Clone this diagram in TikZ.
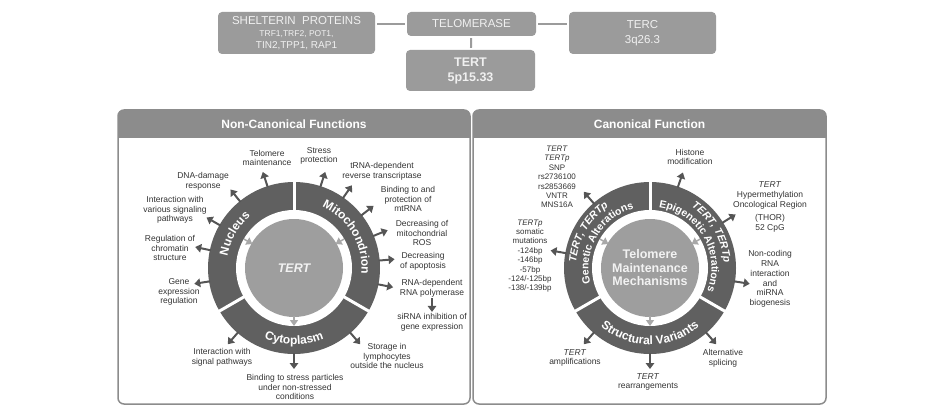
\documentclass[tikz,border=0pt]{standalone}
\usepackage{fontspec}
\setmainfont{Liberation Sans}
\usepackage{tikz}
\usetikzlibrary{arrows.meta,decorations.text}
\usepackage{xcolor}
\definecolor{boxgrey}{HTML}{9B9B9B}
\definecolor{hdrgrey}{HTML}{8C8C8C}
\definecolor{ringgrey}{HTML}{606060}
\definecolor{coregrey}{HTML}{9E9E9E}
\definecolor{arrgrey}{HTML}{555555}
\definecolor{tipgrey}{HTML}{A8A8A8}
\definecolor{txtgrey}{HTML}{333333}

\tikzset{
  gbox/.style={fill=boxgrey, rounded corners=4pt, text=white!94!black, align=center, inner sep=0pt},
  lbl/.style={text=txtgrey, align=center, font=\fontsize{8.5}{9.8}\selectfont, inner sep=1pt},
  lbls/.style={lbl, font=\fontsize{8}{9.4}\selectfont},
  outarr/.style={arrgrey, line width=2pt, -{Triangle[length=6pt,width=8.5pt]}},
  inarr/.style={tipgrey, line width=1.5pt, -{Triangle[length=6pt,width=8pt]}},
  link/.style={boxgrey, line width=2pt, shorten <=2pt, shorten >=2pt},
  panel/.style={draw=hdrgrey, line width=1.5pt, rounded corners=6pt},
  hdr/.style={text=white, font=\bfseries\fontsize{12}{14}\selectfont},
}

\begin{document}
\begin{tikzpicture}[x=1pt,y=1pt]
\useasboundingbox (0,0) rectangle (928,-414);

% top row
\node[gbox, minimum width=157pt, minimum height=42pt] (shel) at (296.5,-33) {\fontsize{11.5}{12}\selectfont SHELTERIN\ \ PROTEINS\\\fontsize{8.5}{10}\selectfont TRF1,TRF2, POT1,\\TIN2,TPP1, RAP1};
\node[gbox, minimum width=129pt, minimum height=24pt, font=\fontsize{11.5}{13}\selectfont] (telo) at (471.5,-24) {TELOMERASE};
\node[gbox, minimum width=147pt, minimum height=42pt, font=\fontsize{11.5}{15}\selectfont] (terc) at (642.5,-33) {TERC\\3q26.3};
\node[gbox, minimum width=129pt, minimum height=41pt, font=\bfseries\fontsize{12.5}{15}\selectfont] (tert) at (470.5,-70.5) {TERT\\5p15.33};
\draw[link] (telo.west) -- (telo.west -| shel.east);
\draw[link] (telo.east) -- (telo.east -| terc.west);
\draw[link] (telo) -- (tert);

% panels
\begin{scope}
\clip[rounded corners=6pt] (118,-110) rectangle (470,-404);
\fill[hdrgrey] (118,-110) rectangle (470,-138);
\end{scope}
\draw[panel] (118,-110) rectangle (470,-404);
\node[hdr] (nchd) at (294,-124) {Non-Canonical Functions};
\begin{scope}
\clip[rounded corners=6pt] (473,-110) rectangle (826,-404);
\fill[hdrgrey] (473,-110) rectangle (826,-138);
\end{scope}
\draw[panel] (473,-110) rectangle (826,-404);
\node[hdr] (chd) at (649.5,-124) {Canonical Function};

% left wheel
\begin{scope}[shift={(294,-268)}]
\fill[ringgrey] (0,0) circle[radius=86pt];
\fill[white] (0,0) circle[radius=58pt];
\fill[coregrey] (0,0) circle[radius=49pt];
\foreach \a in {90,210,330} \draw[white, line width=3pt] (\a:56pt) -- (\a:88pt);
\draw[inarr] (150:58pt) -- (150:48pt);
\draw[inarr] (30:58pt) -- (30:48pt);
\draw[inarr] (270:48pt) -- (270:58pt);
\foreach \a in {108,129,150,168,189,229,270,311,72,55,38,22,5,-11}
  \draw[outarr] (\a:85pt) -- (\a:101pt);
\path[decorate, decoration={text along path, text align=center, text color=white,
  text={|\bfseries\fontsize{12}{12}\selectfont|Nucleus}}]
  (207:67.5pt) arc[start angle=207, end angle=93, radius=67.5pt];
\path[decorate, decoration={text along path, text align=center, text color=white,
  text={|\bfseries\fontsize{12}{12}\selectfont|Mitochondrion}}]
  (87:67.5pt) arc[start angle=87, end angle=-27, radius=67.5pt];
\path[decorate, decoration={text along path, text align=center, text color=white,
  text={|\bfseries\fontsize{12}{12}\selectfont|Cytoplasm}}]
  (213:76.5pt) arc[start angle=213, end angle=327, radius=76.5pt];
\node[text=white!95!black, font=\bfseries\itshape\fontsize{12.5}{15}\selectfont] (core) at (0,0) {TERT};
\end{scope}

% left labels
\node[lbl] (telm) at (267,-158) {Telomere\\maintenance};
\node[lbl] (dna) at (203,-181) {DNA-damage\\response};
\node[lbl] (ivsp) at (175,-210) {Interaction with\\various signaling\\pathways};
\node[lbl] (chro) at (170,-248) {Regulation of\\chromatin\\structure};
\node[lbl] (gene) at (179,-292) {Gene\\expression\\regulation};
\node[lbl] (isp) at (222,-357) {Interaction with\\signal pathways};
\node[lbl] (bsp) at (295,-387) {Binding to stress particles\\under non-stressed\\conditions};
\node[lbl] (stor) at (387,-356) {Storage in\\lymphocytes\\outside the nucleus};
\node[lbl] (sprot) at (319,-156) {Stress\\protection};
\node[lbl] (trna) at (382,-171) {tRNA-dependent\\reverse transcriptase};
\node[lbl] (mtrna) at (408,-199) {Binding to and\\protection of\\mtRNA};
\node[lbl] (ros) at (422,-233) {Decreasing of\\mitochondrial\\ROS};
\node[lbl] (apo) at (423,-261) {Decreasing\\of apoptosis};
\node[lbl] (rdrp) at (432,-288) {RNA-dependent\\RNA polymerase};
\node[lbl] (sirna) at (432,-322) {siRNA inhibition of\\gene expression};
\draw[outarr] (rdrp) -- (sirna);

% right wheel
\begin{scope}[shift={(650,-268)}]
\fill[ringgrey] (0,0) circle[radius=86pt];
\fill[white] (0,0) circle[radius=58pt];
\fill[coregrey] (0,0) circle[radius=49pt];
\foreach \a in {90,210,330} \draw[white, line width=3pt] (\a:56pt) -- (\a:88pt);
\draw[inarr] (150:58pt) -- (150:48pt);
\draw[inarr] (30:58pt) -- (30:48pt);
\draw[inarr] (270:48pt) -- (270:58pt);
\foreach \a in {131,170,71,32,-9,229,270,311}
  \draw[outarr] (\a:85pt) -- (\a:101pt);
\path[decorate, decoration={text along path, text align=center, text color=white,
  text={|\bfseries\itshape\fontsize{10.5}{12}\selectfont|TERT, TERTp}}]
  (207:74pt) arc[start angle=207, end angle=93, radius=74pt];
\path[decorate, decoration={text along path, text align=center, text color=white,
  text={|\bfseries\fontsize{10.5}{12}\selectfont|Genetic Alterations}}]
  (208:61.5pt) arc[start angle=208, end angle=92, radius=61.5pt];
\path[decorate, decoration={text along path, text align=center, text color=white,
  text={|\bfseries\itshape\fontsize{10.5}{12}\selectfont|TERT, TERTp}}]
  (87:74pt) arc[start angle=87, end angle=-27, radius=74pt];
\path[decorate, decoration={text along path, text align=center, text color=white,
  text={|\bfseries\fontsize{10.5}{12}\selectfont|Epigenetic Alterations}}]
  (88:61.5pt) arc[start angle=88, end angle=-28, radius=61.5pt];
\path[decorate, decoration={text along path, text align=center, text color=white,
  text={|\bfseries\fontsize{12}{12}\selectfont|Structural Variants}}]
  (213:76.5pt) arc[start angle=213, end angle=327, radius=76.5pt];
\node[text=white!95!black, align=center, font=\bfseries\fontsize{12.5}{13.5}\selectfont] (tmm) at (0,0) {Telomere\\Maintenance\\Mechanisms};
\end{scope}

% right labels
\node[lbls] (snp) at (557,-177) {\textit{TERT}\\\textit{TERTp}\\SNP\\rs2736100\\rs2853669\\VNTR\\MNS16A};
\node[lbls] (mut) at (530,-256) {\textit{TERTp}\\somatic\\mutations\\-124bp\\-146bp\\-57bp\\-124/-125bp\\-138/-139bp};
\node[lbl] (hist) at (690,-157) {Histone\\modification};
\node[lbl] (thor) at (770,-207) {\textit{TERT}\\Hypermethylation\\Oncological Region\\[3pt](THOR)\\52 CpG};
\node[lbl] (ncrna) at (770,-279) {Non-coding\\RNA\\interaction\\and\\miRNA\\biogenesis};
\node[lbl] (alt) at (723,-358) {Alternative\\splicing};
\node[lbl] (rearr) at (648,-382) {\textit{TERT}\\rearrangements};
\node[lbl] (ampl) at (575,-358) {\textit{TERT}\\amplifications};
\end{tikzpicture}
\end{document}
